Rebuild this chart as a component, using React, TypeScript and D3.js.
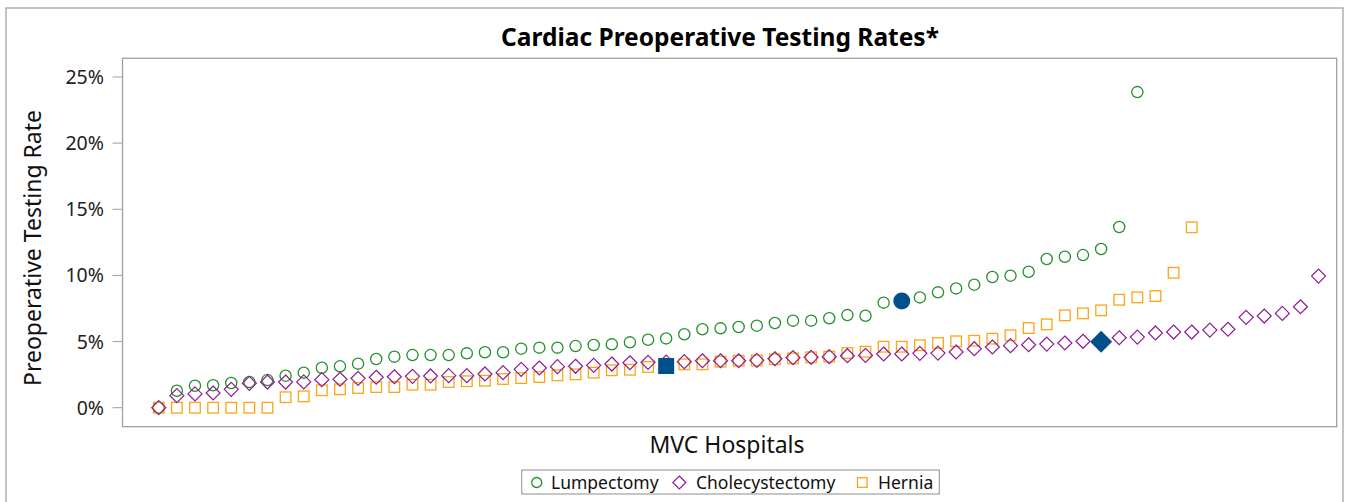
import * as d3 from "d3";

// Hospital-level rates (%) sorted within each procedure
const lumpectomy = [
  0, 1.28, 1.66, 1.7, 1.87, 1.94, 2.09, 2.42, 2.65, 3.02, 3.13, 3.33, 3.68,
  3.86, 3.98, 3.98, 3.98, 4.11, 4.19, 4.19, 4.46, 4.54, 4.54, 4.66, 4.74, 4.79,
  4.94, 5.14, 5.24, 5.55, 5.93, 6.0, 6.1, 6.2, 6.4, 6.58, 6.58, 6.76, 7.0, 6.95,
  7.94, 8.07, 8.34, 8.72, 9.02, 9.3, 9.88, 9.98, 10.28, 11.24, 11.41, 11.54,
  12.0, 13.66, 23.86,
];
const cholecystectomy = [
  0, 0.91, 1.04, 1.11, 1.39, 1.84, 1.94, 1.94, 1.95, 2.12, 2.15, 2.22, 2.3,
  2.34, 2.37, 2.4, 2.42, 2.42, 2.55, 2.65, 2.9, 3.0, 3.1, 3.13, 3.2, 3.3, 3.4,
  3.43, 3.45, 3.48, 3.55, 3.55, 3.55, 3.58, 3.7, 3.78, 3.81, 3.86, 3.93, 3.95,
  4.06, 4.06, 4.11, 4.13, 4.21, 4.46, 4.59, 4.69, 4.76, 4.81, 4.89, 5.02, 4.99,
  5.29, 5.34, 5.65, 5.72, 5.72, 5.87, 5.93, 6.83, 6.93, 7.13, 7.63, 9.95,
];
const hernia = [
  0, 0, 0, 0, 0, 0, 0, 0.79, 0.86, 1.32, 1.39, 1.49, 1.56, 1.56, 1.74, 1.74,
  1.94, 2.0, 2.04, 2.17, 2.24, 2.32, 2.45, 2.52, 2.65, 2.83, 2.87, 3.08, 3.15,
  3.28, 3.28, 3.48, 3.55, 3.57, 3.66, 3.73, 3.81, 3.86, 4.13, 4.23, 4.61, 4.61,
  4.72, 4.89, 5.02, 5.06, 5.22, 5.47, 6.02, 6.3, 6.98, 7.13, 7.36, 8.16, 8.34,
  8.44, 10.2, 13.64,
];
// rank (1-based) of the highlighted hospital in each series
const highlight = { lumpectomy: 42, cholecystectomy: 53, hernia: 29 };
const yTicks = [0, 5, 10, 15, 20, 25];
const legendItems = ["Lumpectomy", "Cholecystectomy", "Hernia"];

const GREEN = "#23902a";
const PURPLE = "#8e1c92";
const ORANGE = "#fba514";
const BLUE = "#00508c";
const FONT = "'Noto Sans', 'DejaVu Sans', sans-serif";

export default function App() {
  const width = 1349;
  const height = 502;
  const plot = { left: 122.5, right: 1336.7, top: 58.3, bottom: 426.7 };

  const x = d3.scaleLinear().domain([-1, 66]).range([plot.left, plot.right]);
  const y = d3.scaleLinear().domain([0, 25]).range([407.7, 77]);

  const diamond = (cx: number, cy: number, r: number) =>
    `M${cx},${cy - r}L${cx + r},${cy}L${cx},${cy + r}L${cx - r},${cy}Z`;

  return (
    <svg
      width={width}
      height={height}
      style={{ position: "absolute", left: 0, top: 0, background: "#fff" }}
      fontFamily={FONT}
    >
      <rect x={6} y={8} width={1337} height={510} fill="#fff" stroke="#b0b0b0" strokeWidth={1.5} />

      <text x={720} y={46} textAnchor="middle" fontSize={24.5} fontWeight="bold" fill="#000">
        Cardiac Preoperative Testing Rates*
      </text>

      <rect
        x={plot.left}
        y={plot.top}
        width={plot.right - plot.left}
        height={plot.bottom - plot.top}
        fill="none"
        stroke="#a0a0a0"
        strokeWidth={1.3}
      />

      {yTicks.map((t) => (
        <g key={t}>
          <line x1={plot.left - 10} x2={plot.left} y1={y(t)} y2={y(t)} stroke="#a0a0a0" strokeWidth={1} />
          <text x={104} y={y(t) + 7} textAnchor="end" fontSize={19.5} fill="#222">
            {t}%
          </text>
        </g>
      ))}

      <text
        transform={`translate(41,${248}) rotate(-90)`}
        textAnchor="middle"
        fontSize={23}
        fill="#111"
      >
        Preoperative Testing Rate
      </text>
      <text x={727} y={453} textAnchor="middle" fontSize={23} fill="#111">
        MVC Hospitals
      </text>

      {lumpectomy.map((v, i) =>
        i + 1 === highlight.lumpectomy ? null : (
          <circle key={"l" + i} cx={x(i + 1)} cy={y(v)} r={5.6} fill="none" stroke={GREEN} strokeWidth={1.3} />
        )
      )}
      {hernia.map((v, i) =>
        i + 1 === highlight.hernia ? null : (
          <rect
            key={"h" + i}
            x={x(i + 1) - 5.3}
            y={y(v) - 5.3}
            width={10.6}
            height={10.6}
            fill="none"
            stroke={ORANGE}
            strokeWidth={1.3}
          />
        )
      )}
      {cholecystectomy.map((v, i) =>
        i + 1 === highlight.cholecystectomy ? null : (
          <path key={"c" + i} d={diamond(x(i + 1), y(v), 7)} fill="none" stroke={PURPLE} strokeWidth={1.2} />
        )
      )}

      <circle cx={x(highlight.lumpectomy)} cy={y(lumpectomy[highlight.lumpectomy - 1])} r={8.5} fill={BLUE} />
      <rect
        x={x(highlight.hernia) - 8}
        y={y(hernia[highlight.hernia - 1]) - 8}
        width={16}
        height={16}
        fill={BLUE}
      />
      <path d={diamond(x(highlight.cholecystectomy), y(cholecystectomy[highlight.cholecystectomy - 1]), 11)} fill={BLUE} />

      <rect x={521.7} y={470} width={417.6} height={24} fill="#fff" stroke="#a0a0a0" strokeWidth={1.2} />
      <circle cx={536.7} cy={482.5} r={5} fill="none" stroke={GREEN} strokeWidth={1.3} />
      <path d={diamond(679.3, 482.5, 6.5)} fill="none" stroke={PURPLE} strokeWidth={1.2} />
      <rect x={857.5} y={477.7} width={9.6} height={9.6} fill="none" stroke={ORANGE} strokeWidth={1.3} />
      {legendItems.map((name, i) => (
        <text key={name} x={[551, 696, 878][i]} y={488.5} fontSize={17.5} fill="#111">
          {name}
        </text>
      ))}
    </svg>
  );
}
